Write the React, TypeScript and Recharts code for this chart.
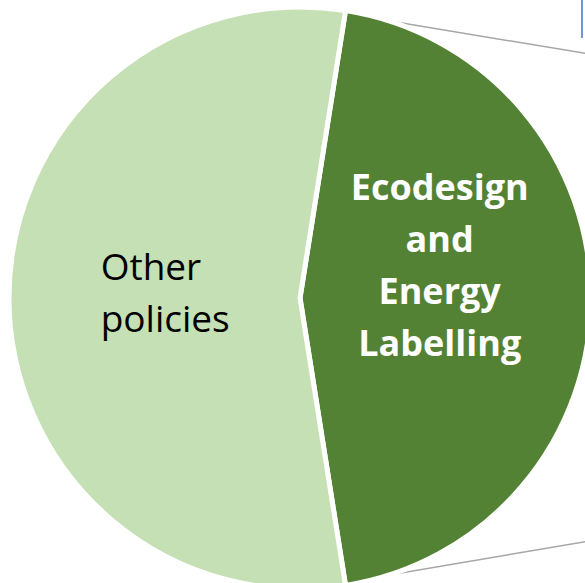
import React from "react";
import { PieChart, Pie, Cell, Customized } from "recharts";

const categories = ["Ecodesign and Energy Labelling", "Other policies"];
const values = [45, 55];
const labelLines = [
  ["Ecodesign", "and", "Energy", "Labelling"],
  ["Other", "policies"],
];
const colors = ["#548235", "#C5E0B4"];
const textColors = ["#FFFFFF", "#000000"];

const data = categories.map((name, i) => ({ name, value: values[i] }));

const W = 585;
const H = 583;
const CX = 300;
const CY = 298;
const R = 291;
const total = values.reduce((a, b) => a + b, 0);
const span = (values[0] / total) * 360;
const START = span / 2;
const RAD = Math.PI / 180;

const renderLabel = (props: any) => {
  const { cx, cy, midAngle, outerRadius, index } = props;
  const lines = labelLines[index];
  const rr = outerRadius * (index === 0 ? 0.48 : 0.465);
  const x0 = cx + rr * Math.cos(-midAngle * RAD);
  const y = cy + rr * Math.sin(-midAngle * RAD);
  const lh = 52;
  const first = index === 0 ? y - 98 : y - 18;
  const x = index === 0 ? x0 : x0 - 64;
  return (
    <text
      x={x}
      y={first}
      textAnchor={index === 0 ? "middle" : "start"}
      fill={textColors[index]}
      fontFamily="'Open Sans', sans-serif"
      fontWeight={index === 0 ? 700 : 400}
      fontSize={index === 0 ? 36 : 37}
    >
      {lines.map((l, i) => (
        <tspan key={i} x={x} y={first + i * lh}>
          {l}
        </tspan>
      ))}
    </text>
  );
};

const Connectors = () => {
  const a1 = START * RAD;
  const a2 = -START * RAD;
  const r = R - 3;
  const p1 = { x: CX + r * Math.cos(a1), y: CY - r * Math.sin(a1) };
  const p2 = { x: CX + r * Math.cos(a2), y: CY - r * Math.sin(a2) };
  return (
    <g>
      <line x1={p1.x} y1={p1.y} x2={W + 10} y2={55} stroke="#A6A6A6" strokeWidth={1.5} />
      <line x1={p2.x} y1={p2.y} x2={W + 10} y2={540} stroke="#A6A6A6" strokeWidth={1.5} />
      <line x1={582} y1={0} x2={582} y2={38} stroke="#4472C4" strokeWidth={1.5} />
    </g>
  );
};

export default function App() {
  return (
    <div style={{ position: "absolute", left: 0, top: 0, width: W, height: H, background: "#fff" }}>
      <PieChart width={W} height={H} margin={{ top: 0, right: 0, bottom: 0, left: 0 }}>
        <Customized component={Connectors} />
        <Pie
          data={data}
          dataKey="value"
          nameKey="name"
          cx={CX}
          cy={CY}
          outerRadius={R}
          startAngle={START}
          endAngle={START - 360}
          stroke="#FFFFFF"
          strokeWidth={5}
          label={renderLabel}
          labelLine={false}
          isAnimationActive={false}
        >
          {data.map((d, i) => (
            <Cell key={d.name} fill={colors[i]} />
          ))}
        </Pie>
      </PieChart>
    </div>
  );
}
